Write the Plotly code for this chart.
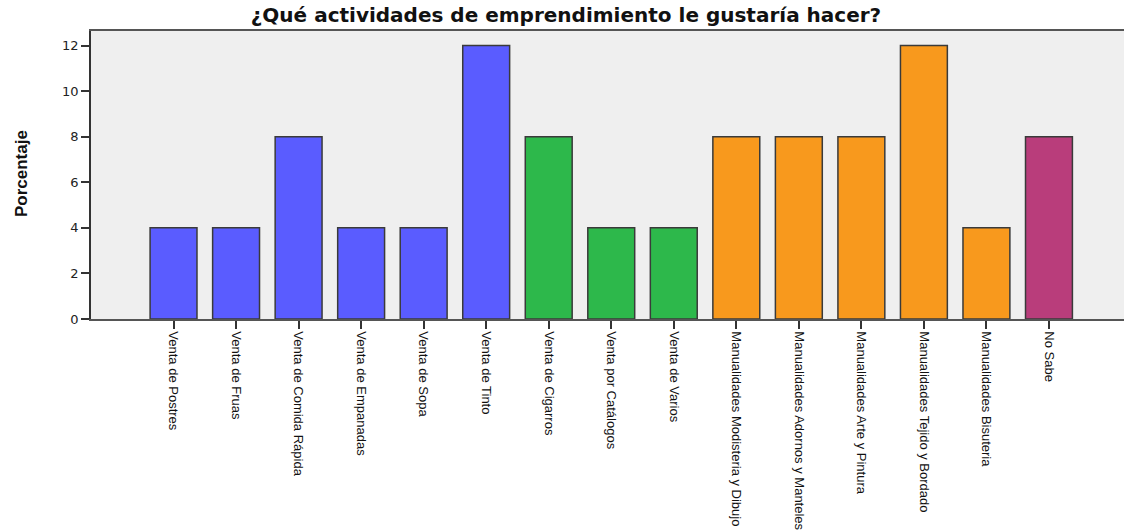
import plotly.graph_objects as go

categories = [
    "Venta de Postres", "Venta de Fruas", "Venta de Comida Rápida",
    "Venta de Empanadas", "Venta de Sopa", "Venta de Tinto",
    "Venta de Cigarros", "Venta por Catálogos", "Venta de Varios",
    "Manualidades Modisteria y Dibujo", "Manualidades Adornos y Manteles",
    "Manualidades Arte y Pintura", "Manualidades Tejido y Bordado",
    "Manualidades Bisuteria", "No Sabe",
]
percentages = [4, 4, 8, 4, 4, 12, 8, 4, 4, 8, 8, 8, 12, 4, 8]
groups = ["alimentos"] * 6 + ["comercio"] * 3 + ["manualidades"] * 5 + ["nosabe"]
y_ticks = [0, 2, 4, 6, 8, 10, 12]

group_colors = {
    "alimentos": "#5a5cff",
    "comercio": "#2db84b",
    "manualidades": "#f8991d",
    "nosabe": "#b93d7b",
}

fig = go.Figure(
    go.Bar(
        x=list(range(len(categories))),
        y=percentages,
        width=0.75,
        marker=dict(
            color=[group_colors[g] for g in groups],
            line=dict(color="#3a3a3a", width=1.5),
        ),
        hoverinfo="skip",
    )
)

fig.update_layout(
    width=1124,
    height=531,
    margin=dict(l=91, r=0, t=31, b=202),
    paper_bgcolor="white",
    plot_bgcolor="#efefef",
    showlegend=False,
    title=dict(
        text="<b>¿Qué actividades de emprendimiento le gustaría hacer?</b>",
        x=566 / 1124,
        xanchor="center",
        y=1 - 15 / 531,
        yanchor="middle",
        font=dict(family="DejaVu Sans", size=20, color="#111111"),
    ),
)

fig.update_xaxes(
    range=[-1.32, 15.2],
    tickmode="array",
    tickvals=list(range(len(categories))),
    ticktext=categories,
    tickangle=90,
    ticks="outside",
    ticklen=8,
    tickcolor="#333333",
    tickwidth=1.5,
    tickfont=dict(family="Liberation Sans", size=13, color="#111111"),
    showline=True,
    linecolor="#555555",
    linewidth=1.5,
    mirror=True,
    showgrid=False,
    zeroline=False,
)

fig.update_yaxes(
    range=[0, 12.64],
    tickmode="array",
    tickvals=y_ticks,
    ticks="outside",
    ticklen=8,
    tickcolor="#333333",
    tickwidth=1.5,
    tickfont=dict(family="DejaVu Sans", size=13, color="#222222"),
    showline=True,
    linecolor="#333333",
    linewidth=1.5,
    showgrid=False,
    zeroline=False,
)

fig.add_annotation(
    text="<b>Porcentaje</b>",
    xref="paper",
    yref="paper",
    x=(21 - 91) / 1033,
    y=(329 - 179) / 298,
    xanchor="center",
    yanchor="middle",
    textangle=-90,
    showarrow=False,
    font=dict(family="Liberation Sans", size=17, color="#111111"),
)

fig.write_html("out.html")
